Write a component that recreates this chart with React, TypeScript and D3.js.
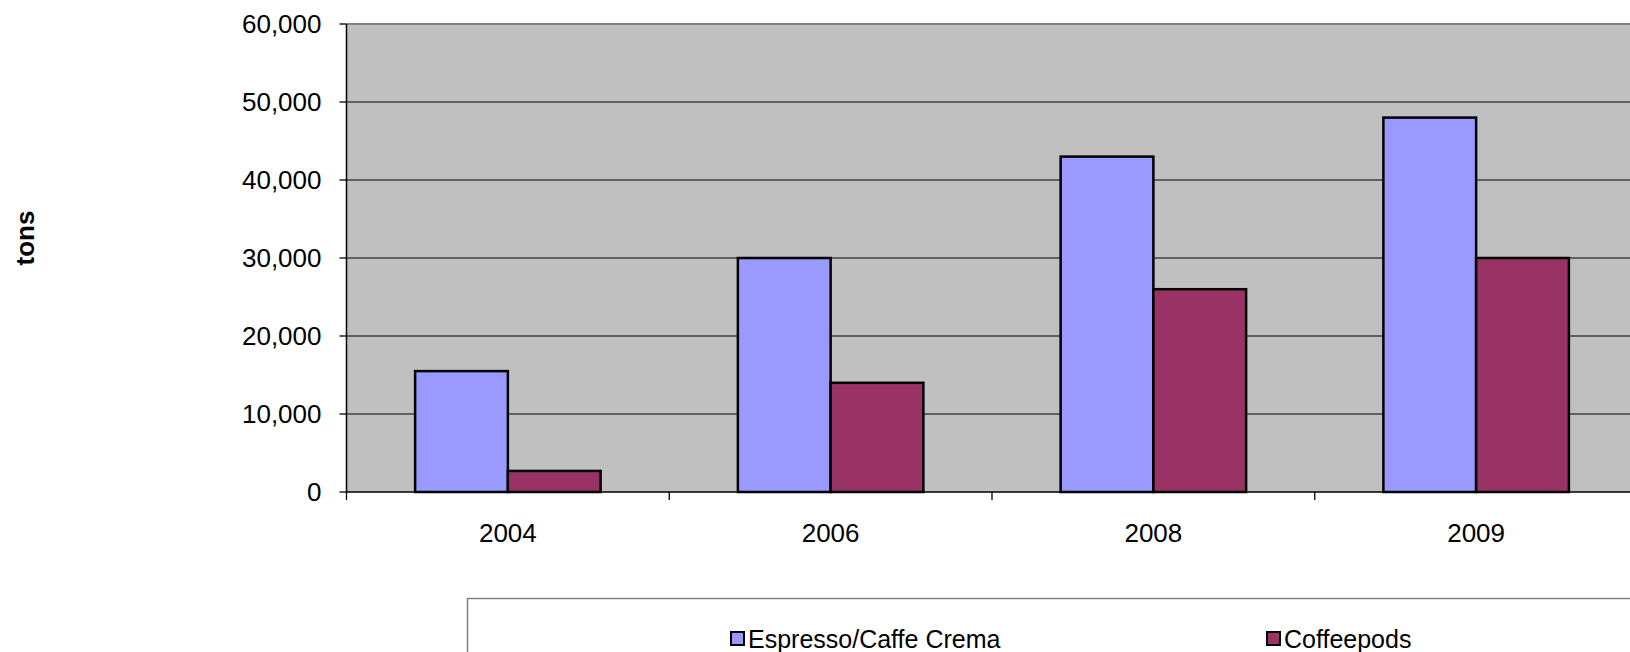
import { useEffect } from 'react';
import * as d3 from 'd3';

const years = ['2004', '2006', '2008', '2009'];
const espresso = [15500, 30000, 43000, 48000];
const coffeepods = [2700, 14000, 26000, 30000];
const yTicks = [0, 10000, 20000, 30000, 40000, 50000, 60000];
const seriesNames = ['Espresso/Caffe Crema', 'Coffeepods'];
const seriesColors = ['#9999FF', '#993366'];

const W = 1630;
const H = 652;
const margin = { top: 24, left: 346.5 };
const plotW = 1291;
const plotH = 468;
const font = 'Arial, "Liberation Sans", sans-serif';

export default function App() {
  useEffect(() => {
    document.body.style.margin = '0';
    document.body.style.overflow = 'hidden';
  }, []);

  const x = d3.scaleBand().domain(years).range([0, plotW]).paddingInner(0).paddingOuter(0);
  const y = d3.scaleLinear().domain([0, 60000]).range([plotH, 0]);
  // two bars per group, gap ~ 148% of one bar width
  const inner = d3.scaleBand().domain(['0', '1']).range([0, x.bandwidth()]).paddingOuter(0.74).paddingInner(0);
  const fmt = d3.format(',');
  const series = [espresso, coffeepods];

  return (
    <svg width={W} height={H} style={{ display: 'block', fontFamily: font }}>
      <rect width={W} height={H} fill="#fff" />
      <g transform={`translate(${margin.left},${margin.top})`}>
        <rect x={0} y={0} width={plotW} height={plotH} fill="#C0C0C0" />
        <line x1={0} x2={plotW} y1={0} y2={0} stroke="#808080" strokeWidth={2} />
        {yTicks.slice(1, -1).map(t => (
          <line key={t} x1={0} x2={plotW} y1={y(t)} y2={y(t)} stroke="#404040" strokeWidth={1.3} />
        ))}
        {series.map((vals, si) =>
          vals.map((v, i) => (
            <rect
              key={`${si}-${i}`}
              x={(x(years[i]) || 0) + (inner(String(si)) || 0)}
              y={y(v)}
              width={inner.bandwidth()}
              height={plotH - y(v)}
              fill={seriesColors[si]}
              stroke="#000"
              strokeWidth={2.5}
            />
          ))
        )}
        {/* axes */}
        <line x1={0} x2={0} y1={0} y2={plotH} stroke="#000" strokeWidth={1.5} />
        <line x1={0} x2={plotW} y1={plotH} y2={plotH} stroke="#000" strokeWidth={1.5} />
        {yTicks.map(t => (
          <g key={t}>
            <line x1={-7} x2={0} y1={y(t)} y2={y(t)} stroke="#000" strokeWidth={1.3} />
            <text x={-25} y={y(t)} dy="0.35em" textAnchor="end" fontSize={26} fill="#000">
              {fmt(t)}
            </text>
          </g>
        ))}
        {years.map((yr, i) => (
          <g key={yr}>
            <line x1={(x(yr) || 0)} x2={(x(yr) || 0)} y1={plotH} y2={plotH + 8} stroke="#000" strokeWidth={1.3} />
            {i === years.length - 1 && (
              <line x1={plotW} x2={plotW} y1={plotH} y2={plotH + 8} stroke="#000" strokeWidth={1.3} />
            )}
            <text x={(x(yr) || 0) + x.bandwidth() / 2} y={plotH + 41} dy="0.35em" textAnchor="middle" fontSize={26} fill="#000">
              {yr}
            </text>
          </g>
        ))}
      </g>
      <text
        transform="translate(25,238) rotate(-90)"
        textAnchor="middle"
        dy="0.35em"
        fontSize={26}
        fontWeight="bold"
        fill="#000"
      >
        tons
      </text>
      {/* legend */}
      <rect x={467.5} y={598.5} width={1200} height={100} fill="#fff" stroke="#808080" strokeWidth={1.5} />
      {seriesNames.map((name, i) => {
        const lx = [731, 1267][i];
        return (
          <g key={name} transform={`translate(${lx},639)`}>
            <rect x={0} y={-7} width={13} height={13} fill={seriesColors[i]} stroke="#000" strokeWidth={2} />
            <text x={17} y={0} dy="0.35em" fontSize={25} fill="#000">
              {name}
            </text>
          </g>
        );
      })}
    </svg>
  );
}
